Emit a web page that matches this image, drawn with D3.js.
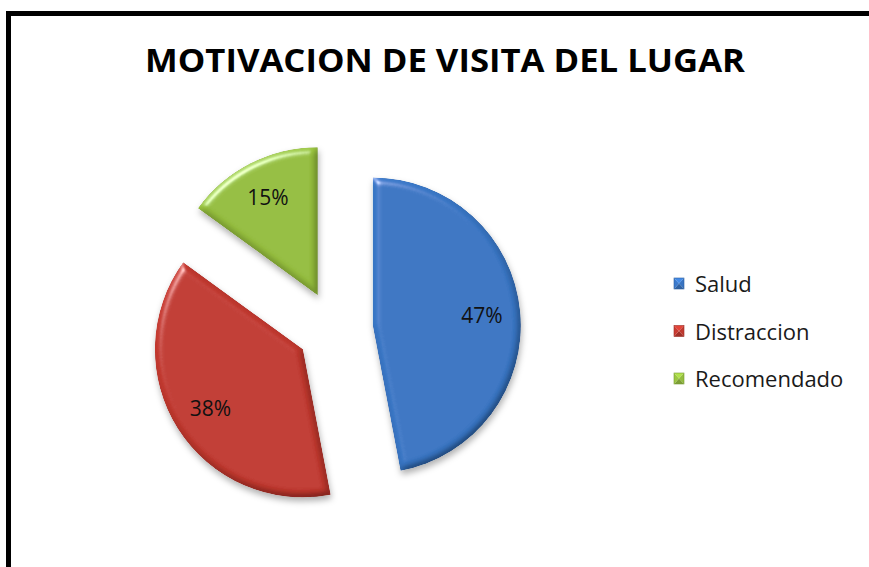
<!DOCTYPE html>
<html>
<head>
<meta charset="utf-8">
<script src="https://cdn.jsdelivr.net/npm/d3@7"></script>
<style>
  html, body { margin: 0; padding: 0; background: #fff; }
  svg { display: block; }
</style>
</head>
<body>
<svg id="chart" width="869" height="567"></svg>
<script>
// Survey: reason for visiting the place
const categories = ["Salud", "Distraccion", "Recomendado"];
const values = [47, 38, 15];
const colors = ["#3874c2", "#c0392f", "#94bd3e"];
const titleText = "MOTIVACION DE VISITA DEL LUGAR";

const svg = d3.select("#chart");
const W = 869, H = 567;

// Frame (only top and left edges fall inside the view)
svg.append("rect")
  .attr("x", 8.5).attr("y", 13.5)
  .attr("width", W + 20).attr("height", H + 20)
  .attr("fill", "#fff").attr("stroke", "#000").attr("stroke-width", 5);

// Title
svg.append("text")
  .attr("x", 145).attr("y", 72)
  .attr("textLength", 600).attr("lengthAdjust", "spacingAndGlyphs")
  .attr("font-family", "'Open Sans', 'DejaVu Sans', sans-serif")
  .attr("font-weight", "bold").attr("font-size", 33)
  .attr("fill", "#000")
  .text(titleText);

const defs = svg.append("defs");

// Bevel + drop shadow for slices
const f = defs.append("filter").attr("id", "bevel")
  .attr("x", "-20%").attr("y", "-20%").attr("width", "140%").attr("height", "140%");
f.append("feGaussianBlur").attr("in", "SourceAlpha").attr("stdDeviation", 3.5).attr("result", "blur");
const spec = f.append("feSpecularLighting").attr("in", "blur")
  .attr("surfaceScale", 4).attr("specularConstant", 0.45).attr("specularExponent", 40)
  .attr("lighting-color", "#ffffff").attr("result", "spec");
spec.append("feDistantLight").attr("azimuth", 235).attr("elevation", 42);
f.append("feComposite").attr("in", "spec").attr("in2", "SourceAlpha").attr("operator", "in").attr("result", "specIn");
f.append("feComposite").attr("in", "SourceGraphic").attr("in2", "specIn")
  .attr("operator", "arithmetic").attr("k1", 0).attr("k2", 1).attr("k3", 1).attr("k4", 0).attr("result", "lit");
// darker rim on lower edges
const diff = f.append("feDiffuseLighting").attr("in", "blur")
  .attr("surfaceScale", 4).attr("diffuseConstant", 1).attr("lighting-color", "#ffffff").attr("result", "diff");
diff.append("feDistantLight").attr("azimuth", 235).attr("elevation", 55);
f.append("feComposite").attr("in", "lit").attr("in2", "diff")
  .attr("operator", "arithmetic").attr("k1", 1.0).attr("k2", 0.18).attr("k3", 0).attr("k4", 0).attr("result", "shaded");
f.append("feComposite").attr("in", "shaded").attr("in2", "SourceAlpha").attr("operator", "in").attr("result", "body");
f.append("feGaussianBlur").attr("in", "SourceAlpha").attr("stdDeviation", 3).attr("result", "sblur");
f.append("feOffset").attr("in", "sblur").attr("dx", 1).attr("dy", 4).attr("result", "soff");
f.append("feFlood").attr("flood-color", "#000").attr("flood-opacity", 0.3).attr("result", "sc");
f.append("feComposite").attr("in", "sc").attr("in2", "soff").attr("operator", "in").attr("result", "shadow");
const m = f.append("feMerge");
m.append("feMergeNode").attr("in", "shadow");
m.append("feMergeNode").attr("in", "body");

// Pie layout
const cx = 335, cy = 329, r = 148, explode = 38;
const pie = d3.pie().sort(null).value(d => d).startAngle(0).endAngle(2 * Math.PI);
const arcs = pie(values);
const arc = d3.arc().innerRadius(0).outerRadius(r);
const labelArc = d3.arc().innerRadius(r * 0.74).outerRadius(r * 0.74);

const g = svg.append("g").attr("transform", `translate(${cx},${cy})`);

const slice = g.selectAll("g.slice").data(arcs).enter().append("g")
  .attr("class", "slice")
  .attr("transform", d => {
    const a = (d.startAngle + d.endAngle) / 2;
    return `translate(${explode * Math.sin(a)},${-explode * Math.cos(a)})`;
  });

slice.append("path")
  .attr("d", arc)
  .attr("fill", (d, i) => colors[i])
  .attr("filter", "url(#bevel)");

const total = d3.sum(values);
slice.append("text")
  .attr("transform", d => `translate(${labelArc.centroid(d)})`)
  .attr("text-anchor", "middle")
  .attr("dy", "0.36em")
  .attr("font-family", "'Open Sans', 'DejaVu Sans', sans-serif")
  .attr("font-size", 21)
  .attr("fill", "#111")
  .text(d => Math.round(d.value / total * 100) + "%");

// Legend
const legend = svg.append("g").attr("transform", "translate(674,278)");
const item = legend.selectAll("g").data(categories).enter().append("g")
  .attr("transform", (d, i) => `translate(0,${i * 47.5})`);

const mw = 10, mh = 11;
item.each(function(d, i) {
  const gi = d3.select(this);
  const c = d3.color(colors[i]);
  const faces = [
    { pts: [[0,0],[mw,0],[mw/2,mh/2]], col: c.brighter(0.5) },
    { pts: [[mw,0],[mw,mh],[mw/2,mh/2]], col: c },
    { pts: [[0,mh],[mw,mh],[mw/2,mh/2]], col: c.darker(0.5) },
    { pts: [[0,0],[0,mh],[mw/2,mh/2]], col: c.brighter(0.15) }
  ];
  gi.selectAll("path").data(faces).enter().append("path")
    .attr("d", p => "M" + p.pts.join("L") + "Z")
    .attr("fill", p => p.col.formatHex());
  gi.append("rect").attr("width", mw).attr("height", mh)
    .attr("fill", "none").attr("stroke", c.darker(0.6).formatHex()).attr("stroke-width", 0.6);
});

item.append("text")
  .attr("x", 21).attr("y", 14)
  .attr("font-family", "'Open Sans', 'DejaVu Sans', sans-serif")
  .attr("font-size", 22)
  .attr("fill", "#1a1a1a")
  .text(d => d);
</script>
</body>
</html>
